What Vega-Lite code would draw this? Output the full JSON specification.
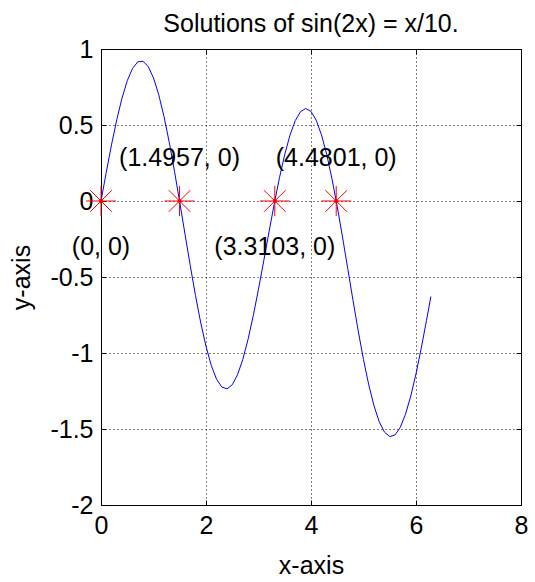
{
  "$schema": "https://vega.github.io/schema/vega-lite/v6.json",
  "width": 420,
  "height": 456,
  "autosize": {"type": "none"},
  "padding": {"left": 101, "top": 49, "right": 14, "bottom": 77},
  "background": "white",
  "title": {"text": "Solutions of sin(2x) = x/10.", "fontSize": 25, "fontWeight": "normal", "font": "Liberation Sans", "color": "black", "frame": "group", "anchor": "middle", "offset": 0},
  "config": {
    "font": "Liberation Sans",
    "view": {"stroke": "black", "strokeWidth": 1},
    "axis": {
      "labelFontSize": 25, "titleFontSize": 25, "titleFontWeight": "normal",
      "labelColor": "black", "titleColor": "black",
      "domain": false, "ticks": true, "tickSize": -5, "tickColor": "black", "tickWidth": 1, "labelPadding": 13,
      "grid": true, "gridColor": "black", "gridDash": [1, 3], "gridOpacity": 1, "gridWidth": 1
    }
  },
  "resolve": {"axis": {"x": "independent", "y": "independent"}},
  "datasets": {
    "curve": [
      {"x": 0.0, "y": 0.0}, {"x": 0.1, "y": 0.1887}, {"x": 0.2, "y": 0.3694}, {"x": 0.3, "y": 0.5346},
      {"x": 0.4, "y": 0.6774}, {"x": 0.5, "y": 0.7915}, {"x": 0.6, "y": 0.872}, {"x": 0.7, "y": 0.9155},
      {"x": 0.8, "y": 0.9196}, {"x": 0.9, "y": 0.8839}, {"x": 1.0, "y": 0.8093}, {"x": 1.1, "y": 0.6985},
      {"x": 1.2, "y": 0.5555}, {"x": 1.3, "y": 0.3855}, {"x": 1.4, "y": 0.195}, {"x": 1.5, "y": -0.0089},
      {"x": 1.6, "y": -0.2184}, {"x": 1.7, "y": -0.4255}, {"x": 1.8, "y": -0.6225}, {"x": 1.9, "y": -0.8019},
      {"x": 2.0, "y": -0.9568}, {"x": 2.1, "y": -1.0816}, {"x": 2.2, "y": -1.1716}, {"x": 2.3, "y": -1.2237},
      {"x": 2.4, "y": -1.2362}, {"x": 2.5, "y": -1.2089}, {"x": 2.6, "y": -1.1435}, {"x": 2.7, "y": -1.0428},
      {"x": 2.8, "y": -0.9113}, {"x": 2.9, "y": -0.7546}, {"x": 3.0, "y": -0.5794}, {"x": 3.1, "y": -0.3931},
      {"x": 3.2, "y": -0.2035}, {"x": 3.3, "y": -0.0185}, {"x": 3.4, "y": 0.1541}, {"x": 3.5, "y": 0.307},
      {"x": 3.6, "y": 0.4337}, {"x": 3.7, "y": 0.5287}, {"x": 3.8, "y": 0.5879}, {"x": 3.9, "y": 0.6085},
      {"x": 4.0, "y": 0.5894}, {"x": 4.1, "y": 0.5307}, {"x": 4.2, "y": 0.4346}, {"x": 4.3, "y": 0.3044},
      {"x": 4.4, "y": 0.1449}, {"x": 4.5, "y": -0.0379}, {"x": 4.6, "y": -0.2371}, {"x": 4.7, "y": -0.4452},
      {"x": 4.8, "y": -0.6543}, {"x": 4.9, "y": -0.8565}, {"x": 5.0, "y": -1.044}, {"x": 5.1, "y": -1.2099},
      {"x": 5.2, "y": -1.3478}, {"x": 5.3, "y": -1.4528}, {"x": 5.4, "y": -1.5209}, {"x": 5.5, "y": -1.55},
      {"x": 5.6, "y": -1.5392}, {"x": 5.7, "y": -1.4893}, {"x": 5.8, "y": -1.4028}, {"x": 5.9, "y": -1.2835},
      {"x": 6.0, "y": -1.1366}, {"x": 6.1, "y": -0.9682}, {"x": 6.2, "y": -0.7856}, {"x": 6.2832, "y": -0.6283}
    ],
    "roots": [
      {"x": 0, "y": 0, "label": "(0, 0)", "ly": -0.3},
      {"x": 1.4957, "y": 0, "label": "(1.4957, 0)", "ly": 0.28},
      {"x": 3.3103, "y": 0, "label": "(3.3103, 0)", "ly": -0.3},
      {"x": 4.4801, "y": 0, "label": "(4.4801, 0)", "ly": 0.28}
    ]
  },
  "layer": [
    {
      "data": {"name": "curve"},
      "mark": {"type": "line", "color": "#0000ff", "strokeWidth": 1, "clip": true},
      "encoding": {
        "x": {"field": "x", "type": "quantitative", "scale": {"domain": [0, 8], "nice": false, "zero": false},
              "axis": {"values": [0, 2, 4, 6, 8], "title": "x-axis", "titlePadding": 15, "labelFlush": false}},
        "y": {"field": "y", "type": "quantitative", "scale": {"domain": [-2, 1], "nice": false, "zero": false},
              "axis": {"values": [-2, -1.5, -1, -0.5, 0, 0.5, 1], "labelExpr": "'' + datum.value", "title": "y-axis", "titlePadding": 15, "labelFlush": false}}
      }
    },
    {
      "data": {"name": "roots"},
      "mark": {"type": "point", "shape": "M-1,0L1,0M0,-1L0,1M-0.72,-0.72L0.72,0.72M-0.72,0.72L0.72,-0.72", "filled": false, "stroke": "#ff0000", "strokeWidth": 1, "size": 900, "opacity": 1},
      "encoding": {
        "x": {"field": "x", "type": "quantitative",
              "axis": {"orient": "top", "values": [0, 2, 4, 6, 8], "labels": false, "grid": false, "title": null}},
        "y": {"field": "y", "type": "quantitative",
              "axis": {"orient": "right", "values": [-2, -1.5, -1, -0.5, 0, 0.5, 1], "labels": false, "grid": false, "title": null}}
      }
    },
    {
      "data": {"name": "roots"},
      "mark": {"type": "circle", "color": "#ff0000", "size": 16, "opacity": 1},
      "encoding": {
        "x": {"field": "x", "type": "quantitative", "axis": null},
        "y": {"field": "y", "type": "quantitative", "axis": null}
      }
    },
    {
      "data": {"name": "roots"},
      "mark": {"type": "text", "fontSize": 25, "color": "black", "align": "center", "baseline": "middle"},
      "encoding": {
        "x": {"field": "x", "type": "quantitative", "axis": null},
        "y": {"field": "ly", "type": "quantitative", "axis": null},
        "text": {"field": "label"}
      }
    }
  ]
}
